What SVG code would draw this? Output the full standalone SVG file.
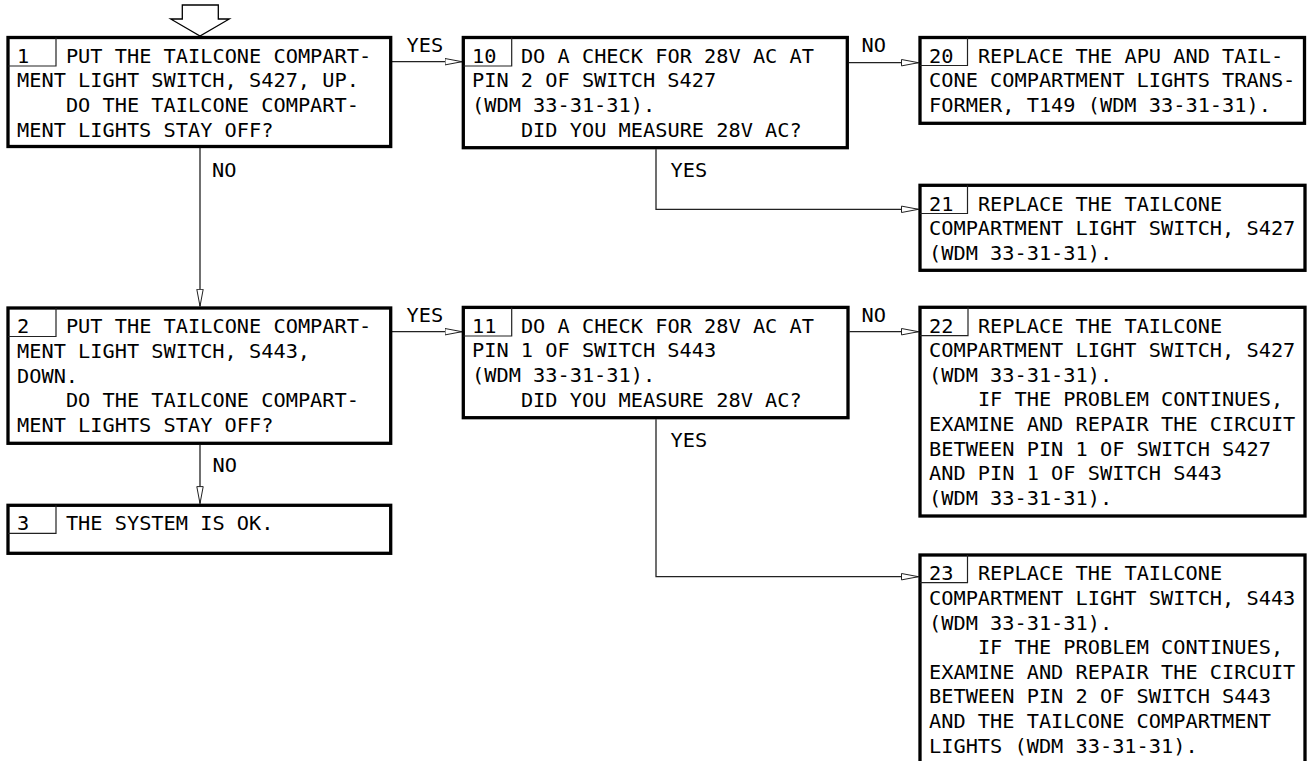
<svg xmlns="http://www.w3.org/2000/svg" width="1310" height="761" viewBox="0 0 1310 761">
<style>
.box{fill:#fff;stroke:#000;stroke-width:3.3}
.cell{fill:none;stroke:#222;stroke-width:1.2}
.t{font-family:"DejaVu Sans Mono","Liberation Mono",monospace;font-size:20.3px;fill:#000}
.con{fill:none;stroke:#222;stroke-width:1.3}
</style>
<defs>
<marker id="ah" viewBox="0 0 18 8" refX="17.5" refY="4" markerWidth="18" markerHeight="8" markerUnits="userSpaceOnUse" orient="auto">
<path d="M0.5,0.8 L17.5,4 L0.5,7.2 Z" fill="#fff" stroke="#222" stroke-width="1"/>
</marker>
</defs>
<rect width="1310" height="761" fill="#fff"/>

<g id="start">
<polygon points="182.3,5 218.3,5 218.3,19 229.3,19 200,36 170.7,19 182.3,19" fill="#fff" stroke="#000" stroke-width="1.3"/>
</g>

<g id="connectors">
<path class="con" d="M392,61.7 H462" marker-end="url(#ah)"/>
<path class="con" d="M849,62.7 H918.5" marker-end="url(#ah)"/>
<path class="con" d="M656,149.3 V209.3 H918.5" marker-end="url(#ah)"/>
<path class="con" d="M200,148 V306.3" marker-end="url(#ah)"/>
<path class="con" d="M392,331.7 H462" marker-end="url(#ah)"/>
<path class="con" d="M849.5,331.7 H918.5" marker-end="url(#ah)"/>
<path class="con" d="M656,419.3 V576.7 H918.5" marker-end="url(#ah)"/>
<path class="con" d="M200,445 V503.6" marker-end="url(#ah)"/>
<text class="t" x="406.5" y="52">YES</text>
<text class="t" x="861.5" y="52">NO</text>
<text class="t" x="212" y="177">NO</text>
<text class="t" x="670.5" y="176.7">YES</text>
<text class="t" x="406.5" y="321.7">YES</text>
<text class="t" x="861.5" y="321.7">NO</text>
<text class="t" x="670.5" y="446.7">YES</text>
<text class="t" x="212.5" y="471.7">NO</text>
</g>

<g id="node1">
<rect class="box" x="8" y="37.5" width="382.7" height="109"/>
<path class="cell" d="M56,37.5 V66 H8"/>
<text class="t" x="17" y="62.8">1</text>
<text class="t" x="65.9" y="62.8">PUT THE TAILCONE COMPART-</text>
<text class="t" x="17" y="87.4">MENT LIGHT SWITCH, S427, UP.</text>
<text class="t" x="65.9" y="112">DO THE TAILCONE COMPART-</text>
<text class="t" x="17" y="136.6">MENT LIGHTS STAY OFF?</text>
</g>

<g id="node2">
<rect class="box" x="8" y="308" width="382.7" height="135.3"/>
<path class="cell" d="M56,308 V336.5 H8"/>
<text class="t" x="17" y="333.3">2</text>
<text class="t" x="65.9" y="333.3">PUT THE TAILCONE COMPART-</text>
<text class="t" x="17" y="357.9">MENT LIGHT SWITCH, S443,</text>
<text class="t" x="17" y="382.5">DOWN.</text>
<text class="t" x="65.9" y="407.1">DO THE TAILCONE COMPART-</text>
<text class="t" x="17" y="431.7">MENT LIGHTS STAY OFF?</text>
</g>

<g id="node3">
<rect class="box" x="8" y="505.3" width="382.7" height="48"/>
<path class="cell" d="M56,505.3 V533.3 H8"/>
<text class="t" x="17" y="529.8">3</text>
<text class="t" x="65.9" y="529.8">THE SYSTEM IS OK.</text>
</g>

<g id="node10">
<rect class="box" x="463.3" y="37.5" width="384" height="110.2"/>
<path class="cell" d="M511.7,37.5 V66 H463.3"/>
<text class="t" x="472" y="62.8">10</text>
<text class="t" x="520.9" y="62.8">DO A CHECK FOR 28V AC AT</text>
<text class="t" x="472" y="87.4">PIN 2 OF SWITCH S427</text>
<text class="t" x="472" y="112">(WDM 33-31-31).</text>
<text class="t" x="520.9" y="136.6">DID YOU MEASURE 28V AC?</text>
</g>

<g id="node11">
<rect class="box" x="463.3" y="307.4" width="384.7" height="110.3"/>
<path class="cell" d="M511.7,307.4 V336 H463.3"/>
<text class="t" x="472" y="332.8">11</text>
<text class="t" x="520.9" y="332.8">DO A CHECK FOR 28V AC AT</text>
<text class="t" x="472" y="357.4">PIN 1 OF SWITCH S443</text>
<text class="t" x="472" y="382">(WDM 33-31-31).</text>
<text class="t" x="520.9" y="406.6">DID YOU MEASURE 28V AC?</text>
</g>

<g id="node20">
<rect class="box" x="920" y="37.5" width="384.5" height="85.8"/>
<path class="cell" d="M967.5,37.5 V65.5 H920"/>
<text class="t" x="929" y="62.8">20</text>
<text class="t" x="977.9" y="62.8">REPLACE THE APU AND TAIL-</text>
<text class="t" x="929" y="87.4">CONE COMPARTMENT LIGHTS TRANS-</text>
<text class="t" x="929" y="112">FORMER, T149 (WDM 33-31-31).</text>
</g>

<g id="node21">
<rect class="box" x="920" y="185.3" width="385" height="85"/>
<path class="cell" d="M967.5,185.3 V213.5 H920"/>
<text class="t" x="929" y="210.6">21</text>
<text class="t" x="977.9" y="210.6">REPLACE THE TAILCONE</text>
<text class="t" x="929" y="235.2">COMPARTMENT LIGHT SWITCH, S427</text>
<text class="t" x="929" y="259.8">(WDM 33-31-31).</text>
</g>

<g id="node22">
<rect class="box" x="920" y="307.3" width="385" height="208.7"/>
<path class="cell" d="M968,307.3 V335.7 H920"/>
<text class="t" x="929" y="332.6">22</text>
<text class="t" x="977.9" y="332.6">REPLACE THE TAILCONE</text>
<text class="t" x="929" y="357.2">COMPARTMENT LIGHT SWITCH, S427</text>
<text class="t" x="929" y="381.8">(WDM 33-31-31).</text>
<text class="t" x="977.9" y="406.4">IF THE PROBLEM CONTINUES,</text>
<text class="t" x="929" y="431">EXAMINE AND REPAIR THE CIRCUIT</text>
<text class="t" x="929" y="455.6">BETWEEN PIN 1 OF SWITCH S427</text>
<text class="t" x="929" y="480.2">AND PIN 1 OF SWITCH S443</text>
<text class="t" x="929" y="504.8">(WDM 33-31-31).</text>
</g>

<g id="node23">
<rect class="box" x="920" y="555" width="385" height="230"/>
<path class="cell" d="M967.5,555 V582.7 H920"/>
<text class="t" x="929" y="580.3">23</text>
<text class="t" x="977.9" y="580.3">REPLACE THE TAILCONE</text>
<text class="t" x="929" y="604.9">COMPARTMENT LIGHT SWITCH, S443</text>
<text class="t" x="929" y="629.5">(WDM 33-31-31).</text>
<text class="t" x="977.9" y="654.1">IF THE PROBLEM CONTINUES,</text>
<text class="t" x="929" y="678.7">EXAMINE AND REPAIR THE CIRCUIT</text>
<text class="t" x="929" y="703.3">BETWEEN PIN 2 OF SWITCH S443</text>
<text class="t" x="929" y="727.9">AND THE TAILCONE COMPARTMENT</text>
<text class="t" x="929" y="752.5">LIGHTS (WDM 33-31-31).</text>
</g>
</svg>
